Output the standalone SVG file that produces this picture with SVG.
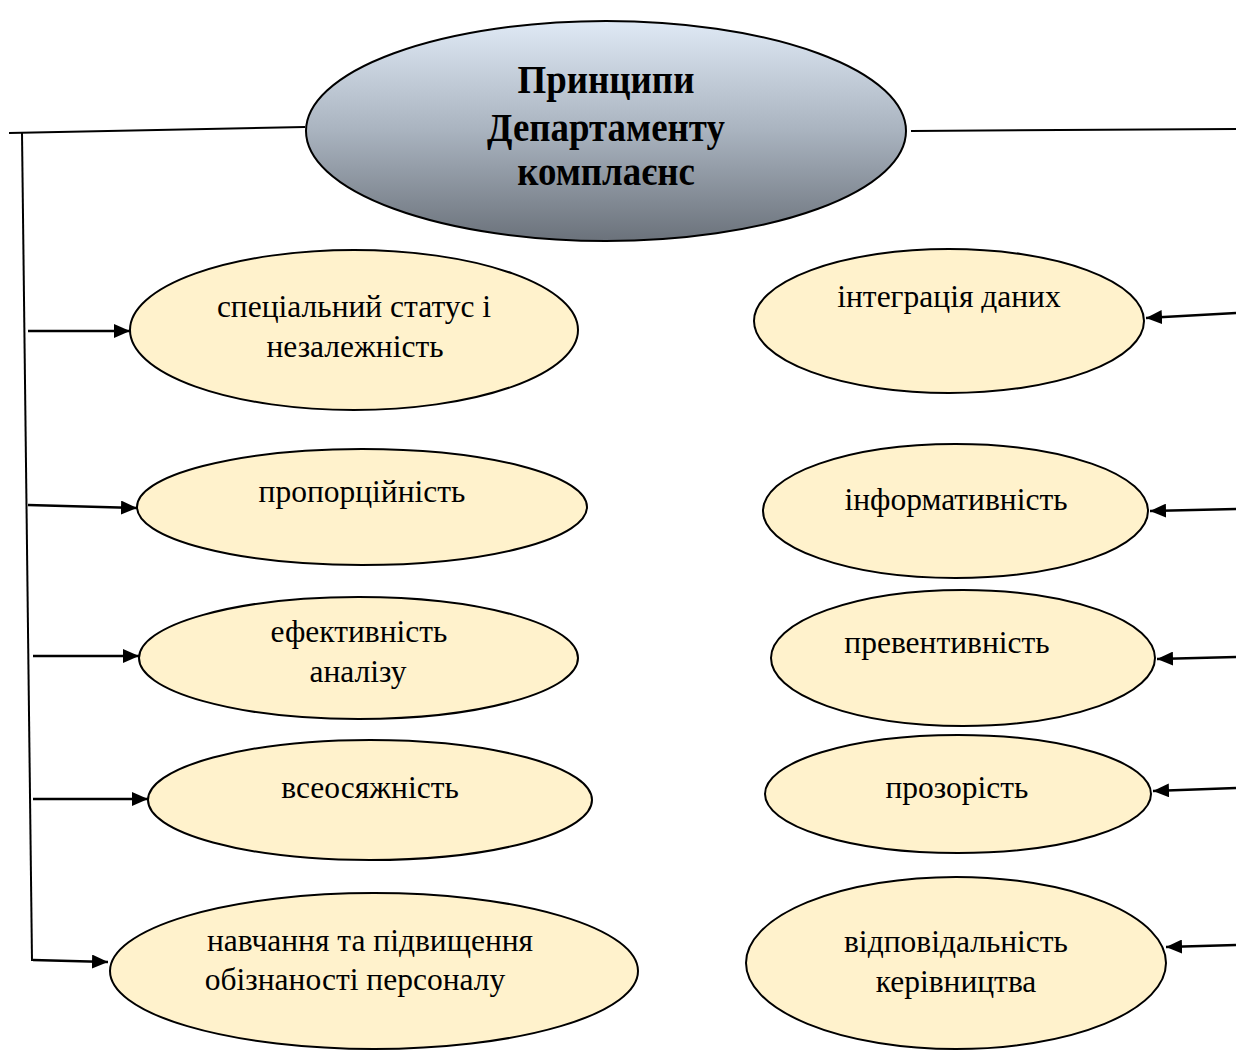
<svg xmlns="http://www.w3.org/2000/svg" width="1236" height="1050" viewBox="0 0 1236 1050">
  <defs>
    <linearGradient id="mainFill" x1="0" y1="0" x2="0" y2="1">
      <stop offset="0" stop-color="#dfe9f5"/>
      <stop offset="0.5" stop-color="#a9b3bf"/>
      <stop offset="1" stop-color="#6b727b"/>
    </linearGradient>
    <marker id="arrowBig" viewBox="0 0 16 14" refX="16" refY="7" markerWidth="16" markerHeight="14" markerUnits="userSpaceOnUse" orient="auto">
      <path d="M0,0 L16,7 L0,14 z" fill="#000"/>
    </marker>
  </defs>
  <style>
    .main { fill: url(#mainFill); stroke: #000; stroke-width: 2; }
    .item { fill: #fff2cc; stroke: #000; stroke-width: 2; }
    .title { font-family: "Liberation Serif", "DejaVu Serif", serif; font-weight: bold; font-size: 41px; fill: #000; text-anchor: middle; }
    .label { font-family: "Liberation Serif", "DejaVu Serif", serif; font-size: 31.5px; fill: #000; text-anchor: middle; }
    .line { fill: none; stroke: #000; stroke-width: 2; }
    .arr { fill: none; stroke: #000; stroke-width: 2.5; marker-end: url(#arrowBig); }
  </style>

  <!-- connectors -->
  <g id="connectors">
    <path class="line" d="M9,133 L305,127"/>
    <path class="line" d="M22,133 L32,961"/>
    <path class="line" d="M911,131 L1236,129"/>
    <path class="arr" d="M28,331 L130,331"/>
    <path class="arr" d="M28,505 L137,508"/>
    <path class="arr" d="M33,656 L139,656"/>
    <path class="arr" d="M33,799 L148,799"/>
    <path class="arr" d="M33,960 L108,962"/>
    <path class="arr" d="M1236,313 L1146,318"/>
    <path class="arr" d="M1236,509 L1150,511"/>
    <path class="arr" d="M1236,657 L1157,659"/>
    <path class="arr" d="M1236,788 L1153,791"/>
    <path class="arr" d="M1236,945 L1166,947"/>
  </g>

  <!-- central node: condensed bold heading -->
  <g id="node-main">
    <ellipse class="main" cx="606" cy="131" rx="300" ry="110"/>
    <g transform="translate(606,0) scale(0.9,1)">
      <text class="title" x="0" y="93">Принципи</text>
      <text class="title" x="0" y="141">Департаменту</text>
      <text class="title" x="0" y="185">комплаєнс</text>
    </g>
  </g>

  <!-- left column -->
  <g id="node-status">
    <ellipse class="item" cx="354" cy="330" rx="224" ry="80"/>
    <text class="label" x="354" y="317">спеціальний статус і</text>
    <text class="label" x="355" y="357">незалежність</text>
  </g>
  <g id="node-proportionality">
    <ellipse class="item" cx="362" cy="507" rx="225" ry="58"/>
    <text class="label" x="362" y="502">пропорційність</text>
  </g>
  <g id="node-efficiency">
    <ellipse class="item" cx="358.5" cy="658" rx="219.5" ry="61"/>
    <text class="label" x="359" y="642">ефективність</text>
    <text class="label" x="358" y="682">аналізу</text>
  </g>
  <g id="node-comprehensiveness">
    <ellipse class="item" cx="370" cy="800" rx="222" ry="60"/>
    <text class="label" x="370" y="798">всеосяжність</text>
  </g>
  <g id="node-training">
    <ellipse class="item" cx="374" cy="971" rx="264" ry="78"/>
    <text class="label" x="370" y="951">навчання та підвищення</text>
    <text class="label" x="355" y="990">обізнаності персоналу</text>
  </g>

  <!-- right column -->
  <g id="node-integration">
    <ellipse class="item" cx="949" cy="321" rx="195" ry="72"/>
    <text class="label" x="949" y="307">інтеграція даних</text>
  </g>
  <g id="node-informativeness">
    <ellipse class="item" cx="955.5" cy="511" rx="192.5" ry="67"/>
    <text class="label" x="956" y="510">інформативність</text>
  </g>
  <g id="node-prevention">
    <ellipse class="item" cx="963" cy="658" rx="192" ry="68"/>
    <text class="label" x="947" y="653">превентивність</text>
  </g>
  <g id="node-transparency">
    <ellipse class="item" cx="958" cy="794" rx="193" ry="59"/>
    <text class="label" x="957" y="798">прозорість</text>
  </g>
  <g id="node-leadership">
    <ellipse class="item" cx="956" cy="963" rx="210" ry="86"/>
    <text class="label" x="956" y="952">відповідальність</text>
    <text class="label" x="956" y="992">керівництва</text>
  </g>
</svg>
